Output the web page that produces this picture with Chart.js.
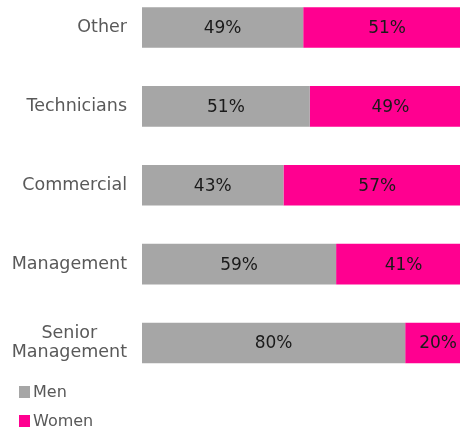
<!DOCTYPE html>
<html>
<head>
<meta charset="utf-8">
<script src="https://cdn.jsdelivr.net/npm/chart.js@4.4.1/dist/chart.umd.min.js"></script>
<style>
  html, body { margin: 0; padding: 0; background: #fff; overflow: hidden; width: 460px; height: 428px; }
  #wrap { position: absolute; left: 0; top: -12px; width: 471px; height: 440px; }
  #legend { position: absolute; left: 19px; top: 377px; font: 16px "DejaVu Sans"; color: #595959; }
  #legend div { height: 29px; display: flex; align-items: center; }
  #legend span.box { display: inline-block; width: 11px; height: 12px; margin-right: 3px; }
</style>
</head>
<body>
<div id="wrap"><canvas id="chart"></canvas></div>
<div id="legend"></div>
<script>
const categories = ['Other', 'Technicians', 'Commercial', 'Management', ['Senior', 'Management']];
const seriesNames = ['Men', 'Women'];
const menValues = [49, 51, 43, 59, 80];
const womenValues = [51, 49, 57, 41, 20];
const seriesColors = ['#a6a6a6', '#ff0090'];

// category labels: block right-aligned to the axis, lines centred within block
const yLabels = {
  id: 'yLabels',
  afterDraw(chart) {
    const ctx = chart.ctx;
    const scale = chart.scales.y;
    const right = chart.chartArea.left - 15;
    ctx.save();
    ctx.font = '17.5px "DejaVu Sans"';
    ctx.fillStyle = '#595959';
    ctx.textAlign = 'center';
    ctx.textBaseline = 'middle';
    chart.data.labels.forEach((lab, i) => {
      const lines = Array.isArray(lab) ? lab : [lab];
      const w = Math.max(...lines.map(l => ctx.measureText(l).width));
      const cy = scale.getPixelForValue(i);
      lines.forEach((l, j) => {
        ctx.fillText(l, right - w / 2, cy + (j - (lines.length - 1) / 2) * 19);
      });
    });
    ctx.restore();
  }
};

// value labels in the middle of each segment
const barLabels = {
  id: 'barLabels',
  afterDatasetsDraw(chart) {
    const ctx = chart.ctx;
    ctx.save();
    ctx.font = '17px "DejaVu Sans"';
    ctx.fillStyle = '#1a1a1a';
    ctx.textAlign = 'center';
    ctx.textBaseline = 'middle';
    chart.data.datasets.forEach((ds, di) => {
      chart.getDatasetMeta(di).data.forEach((bar, i) => {
        ctx.fillText(ds.data[i] + '%', (bar.x + bar.base) / 2, bar.y + 1);
      });
    });
    ctx.restore();
  }
};

const chart = new Chart(document.getElementById('chart'), {
  type: 'bar',
  data: {
    labels: categories,
    datasets: [
      { label: seriesNames[0], data: menValues, backgroundColor: seriesColors[0] },
      { label: seriesNames[1], data: womenValues, backgroundColor: seriesColors[1] },
    ],
  },
  options: {
    indexAxis: 'y',
    responsive: true,
    maintainAspectRatio: false,
    animation: false,
    categoryPercentage: 1,
    barPercentage: 0.515,
    layout: { padding: { left: 142, right: 0, top: 0, bottom: 45.5 } },
    scales: {
      x: { stacked: true, min: 0, max: 100, display: false },
      y: {
        stacked: true,
        grid: { display: false },
        border: { display: false },
        ticks: { display: false },
        afterFit(scale) { scale.width = 0; },
      },
    },
    plugins: {
      legend: { display: false },
      tooltip: { enabled: false },
    },
  },
  plugins: [yLabels, barLabels],
});

const legend = document.getElementById('legend');
seriesNames.forEach((name, i) => {
  const row = document.createElement('div');
  row.innerHTML = '<span class="box" style="background:' + seriesColors[i] + '"></span>' + name;
  legend.appendChild(row);
});
</script>
</body>
</html>
